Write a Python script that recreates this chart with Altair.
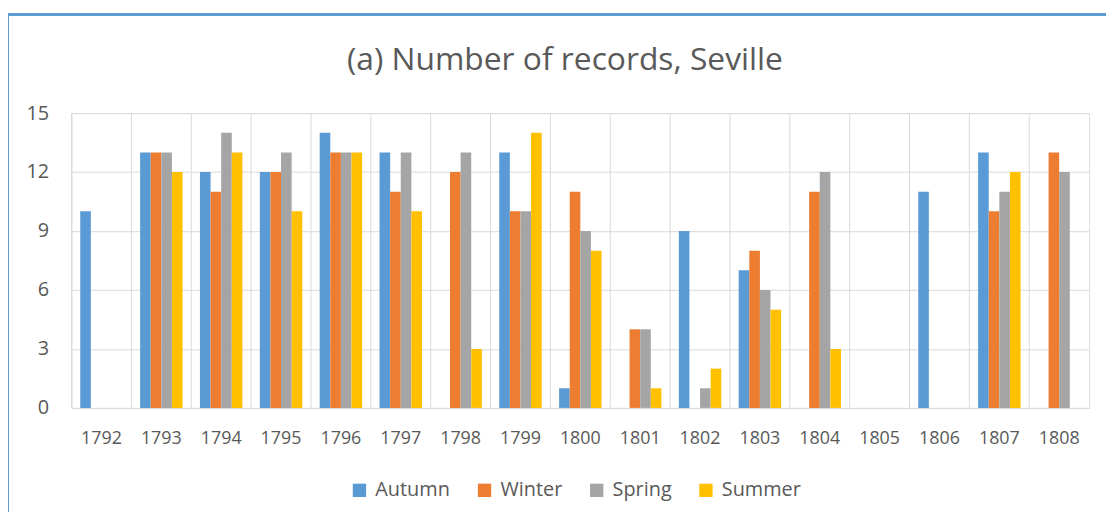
import altair as alt
import pandas as pd

years = ["1792", "1793", "1794", "1795", "1796", "1797", "1798", "1799", "1800",
         "1801", "1802", "1803", "1804", "1805", "1806", "1807", "1808"]
seasons = ["Autumn", "Winter", "Spring", "Summer"]
autumn = [10, 13, 12, 12, 14, 13, 0, 13, 1, 0, 9, 7, 0, 0, 11, 13, 0]
winter = [0, 13, 11, 12, 13, 11, 12, 10, 11, 4, 0, 8, 11, 0, 0, 10, 13]
spring = [0, 13, 14, 13, 13, 13, 13, 10, 9, 4, 1, 6, 12, 0, 0, 11, 12]
summer = [0, 12, 13, 10, 13, 10, 3, 14, 8, 1, 2, 5, 3, 0, 0, 12, 0]
colors = ["#5B9BD5", "#ED7D31", "#A5A5A5", "#FFC000"]
y_ticks = [0, 3, 6, 9, 12, 15]
title_text = "(a) Number of records, Seville"

series = {"Autumn": autumn, "Winter": winter, "Spring": spring, "Summer": summer}
rows = []
for s in seasons:
    for y, v in zip(years, series[s]):
        rows.append({"year": y, "season": s, "records": v})
df = pd.DataFrame(rows)
years_df = pd.DataFrame({"year": years})
title_df = pd.DataFrame({"t": [title_text]})

FONT = "Open Sans"
GRAY = "#595959"
GRID = "#D9D9D9"

x_scale = alt.Scale(domain=years, paddingInner=0, paddingOuter=0)

grid_rules = alt.Chart(years_df).mark_rule(color=GRID, strokeWidth=1).encode(
    x=alt.X("year:N", bandPosition=0, scale=x_scale, sort=years)
)

bars = alt.Chart(df).mark_bar().encode(
    x=alt.X("year:N", scale=x_scale, sort=years,
            axis=alt.Axis(title=None, labelAngle=0, ticks=False, domain=False,
                          grid=False, bandPosition=0.5, labelAlign="center",
                          labelPadding=31, labelFontSize=18,
                          labelFont=FONT, labelColor=GRAY)),
    xOffset=alt.XOffset("season:N", sort=seasons,
                        scale=alt.Scale(domain=seasons, paddingOuter=0.82, paddingInner=0)),
    y=alt.Y("records:Q", scale=alt.Scale(domain=[0, 15], nice=False),
            axis=alt.Axis(title=None, values=y_ticks, ticks=False, domain=False,
                          grid=True, gridColor=GRID, gridWidth=1,
                          labelPadding=23, labelFontSize=20, labelFont=FONT,
                          labelColor=GRAY)),
    color=alt.Color("season:N", sort=seasons,
                    scale=alt.Scale(domain=seasons, range=colors),
                    legend=alt.Legend(title=None, orient="none", direction="horizontal",
                                      legendX=280, legendY=370,
                                      symbolType="square", symbolSize=180,
                                      symbolStrokeWidth=0,
                                      labelFontSize=20, labelFont=FONT,
                                      labelColor=GRAY, columnPadding=24,
                                      labelOffset=6)),
)

title = alt.Chart(title_df).mark_text(
    font=FONT, fontSize=32, color=GRAY, align="center", baseline="middle"
).encode(text="t:N", x=alt.value(497), y=alt.value(-53))

border = alt.Chart(years_df).mark_rect(fill=None, stroke="#5B9BD5", strokeWidth=2,
                                       clip=False).encode(
    x=alt.value(-64), x2=alt.value(1070), y=alt.value(-99), y2=alt.value(440)
)

chart = alt.layer(grid_rules, bars, title, border).properties(
    width=1025,
    height=297,
    autosize=alt.AutoSizeParams(type="none"),
    padding={"left": 64, "top": 104, "right": 17, "bottom": 103},
).configure_view(stroke=GRID, strokeWidth=1).configure(background="white")

chart.save("out.html", embed_options={"renderer": "svg", "actions": False})
